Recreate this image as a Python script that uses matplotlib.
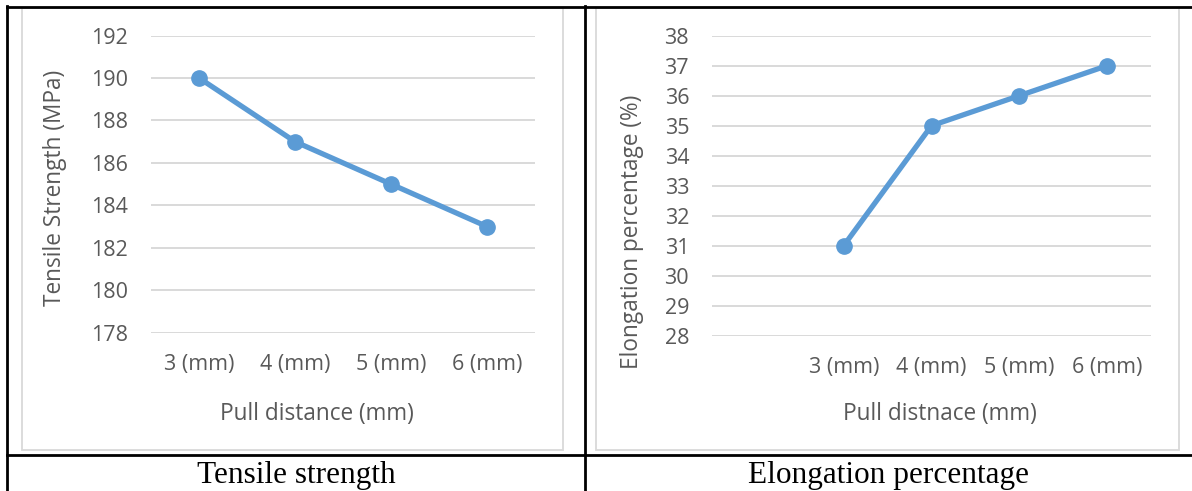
import numpy as np
import matplotlib
matplotlib.use("Agg")
import matplotlib.pyplot as plt
from matplotlib.lines import Line2D
from matplotlib.patches import Rectangle

# ---- data ----
ts_categories = ["3 (mm)", "4 (mm)", "5 (mm)", "6 (mm)"]
ts_values = [190, 187, 185, 183]
ts_yticks = [178, 180, 182, 184, 186, 188, 190, 192]

el_categories = ["", "3 (mm)", "4 (mm)", "5 (mm)", "6 (mm)"]
el_values = [np.nan, 31, 35, 36, 37]
el_yticks = list(range(28, 39))

W, H = 1192, 491
fig = plt.figure(figsize=(W / 100, H / 100), dpi=100)
fig.patch.set_facecolor("white")

def fx(x):
    return x / W

def fy(y):
    return 1 - y / H

def axes_px(x0, x1, y0, y1):
    return fig.add_axes([fx(x0), fy(y1), fx(x1) - fx(x0), fy(y0) - fy(y1)])

FONT = "Open Sans"
TXT = "#595959"
GRID = "#D9D9D9"
LINE = "#5B9BD5"

# chart frames (light gray)
for (x0, x1) in [(22, 563), (596, 1179)]:
    fig.add_artist(Rectangle((fx(x0), fy(450)), fx(x1) - fx(x0), fy(8) - fy(450),
                             transform=fig.transFigure, fill=False,
                             edgecolor=GRID, lw=1.3))

def style(ax, cats, yticks, ylim):
    n = len(cats)
    ax.set_xlim(-0.5, n - 0.5)
    ax.set_ylim(*ylim)
    ax.set_yticks(yticks)
    ax.set_xticks(range(n))
    ax.set_xticklabels(cats)
    for s in ax.spines.values():
        s.set_visible(False)
    ax.grid(axis="y", color=GRID, lw=1.4)
    ax.set_axisbelow(True)
    ax.tick_params(length=0, labelsize=15.5, labelcolor=TXT)
    ax.tick_params(axis="x", pad=15)
    ax.tick_params(axis="y", pad=16.5)
    for lab in ax.get_xticklabels() + ax.get_yticklabels():
        lab.set_fontfamily(FONT)
    ax.patch.set_alpha(0)

# left chart
ax1 = axes_px(151, 535, 35.5, 332.7)
ax1.plot(range(len(ts_categories)), ts_values, color=LINE, lw=3.8,
         marker="o", markersize=11, solid_capstyle="round")
style(ax1, ts_categories, ts_yticks, (178, 192))

# right chart
ax2 = axes_px(712, 1151, 35.7, 335.7)
ax2.plot(range(len(el_categories)), el_values, color=LINE, lw=3.8,
         marker="o", markersize=11, solid_capstyle="round")
style(ax2, el_categories, el_yticks, (28, 38))

# axis titles
fig.text(fx(317), fy(414), "Pull distance (mm)", ha="center", va="center",
         fontsize=16.3, color=TXT, family=FONT)
fig.text(fx(940), fy(414), "Pull distnace (mm)", ha="center", va="center",
         fontsize=16.3, color=TXT, family=FONT)
fig.text(fx(55), fy(188), "Tensile Strength (MPa)", ha="center", va="center",
         rotation=90, fontsize=16.3, color=TXT, family=FONT)
fig.text(fx(632), fy(232), "Elongation percentage (%)", ha="center", va="center",
         rotation=90, fontsize=16.3, color=TXT, family=FONT)

# captions
fig.text(fx(296), fy(475), "Tensile strength", ha="center", va="center",
         fontsize=22.5, color="black", family="Liberation Serif")
fig.text(fx(888), fy(475), "Elongation percentage", ha="center", va="center",
         fontsize=22.5, color="black", family="Liberation Serif")

# table borders (black)
bk = dict(color="black", lw=2, transform=fig.transFigure)
fig.add_artist(Line2D([fx(7), fx(1192)], [fy(7), fy(7)], **bk))
fig.add_artist(Line2D([fx(7), fx(1192)], [fy(455), fy(455)], **bk))
fig.add_artist(Line2D([fx(7), fx(7)], [fy(6), fy(491)], **bk))
fig.add_artist(Line2D([fx(585), fx(585)], [fy(6), fy(491)], **bk))

fig.savefig("out.png", dpi=100, facecolor="white")
